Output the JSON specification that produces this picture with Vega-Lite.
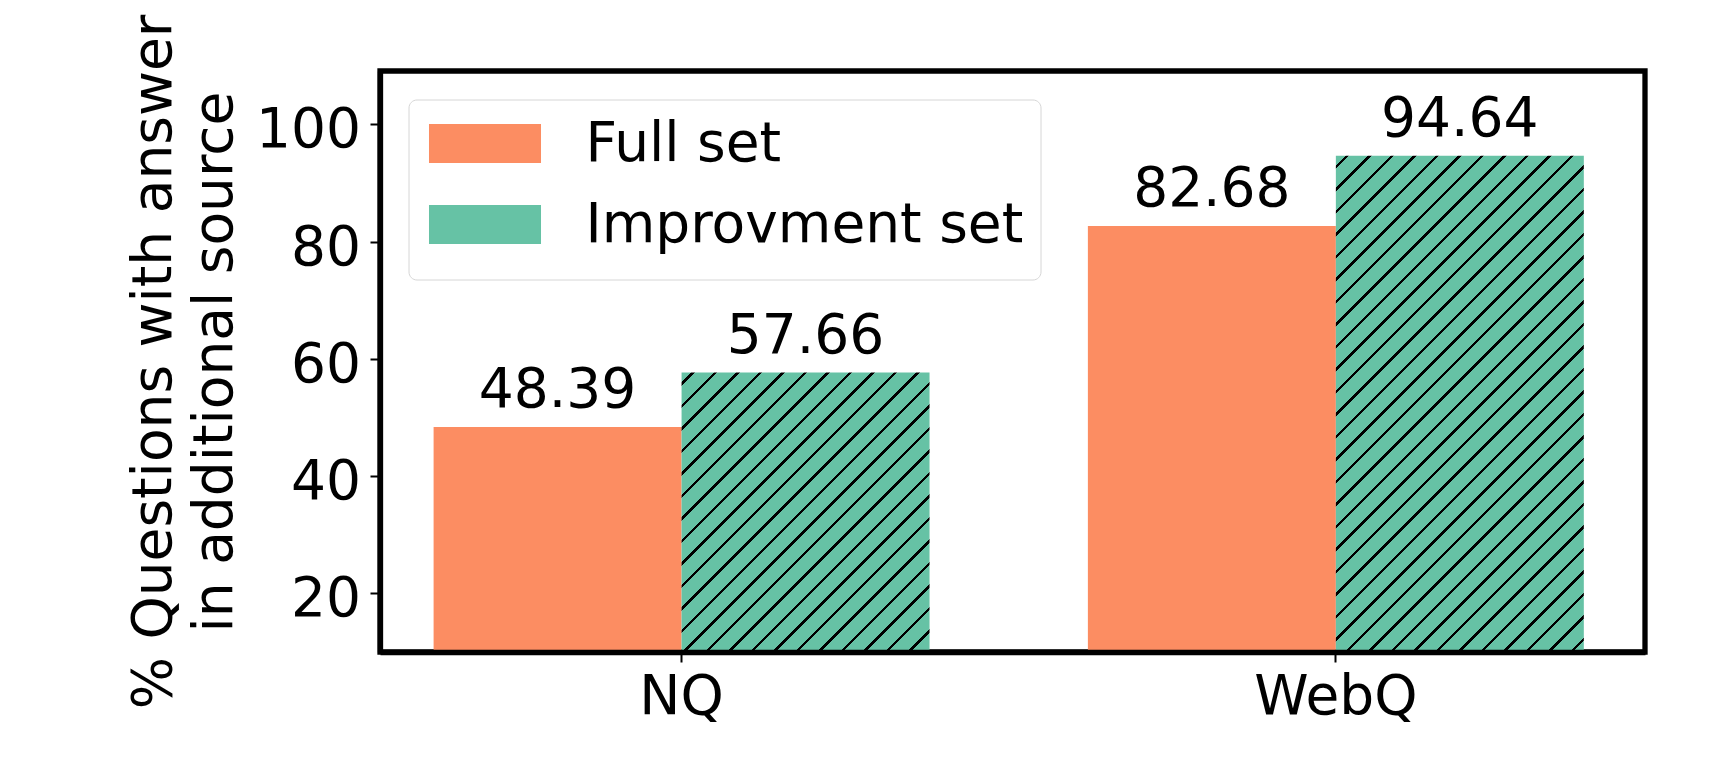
{
  "$schema": "https://vega.github.io/schema/vega-lite/v6.json",
  "width": 1265,
  "height": 581,
  "autosize": {"type": "none"},
  "padding": {"left": 380, "top": 71, "right": 81, "bottom": 108},
  "background": "white",
  "config": {
    "view": {"stroke": "black", "strokeWidth": 5.3},
    "font": "DejaVu Sans"
  },
  "data": {
    "values": [
      {"ds": "NQ", "set": "Full set", "value": 48.39},
      {"ds": "NQ", "set": "Improvment set", "value": 57.66},
      {"ds": "WebQ", "set": "Full set", "value": 82.68},
      {"ds": "WebQ", "set": "Improvment set", "value": 94.64}
    ]
  },
  "encoding": {
    "x": {
      "field": "ds", "type": "nominal", "sort": ["NQ", "WebQ"],
      "scale": {"paddingInner": 0.242, "paddingOuter": 0.0877, "align": 0.467},
      "axis": {
        "title": null, "labelAngle": 0, "grid": false, "zindex": 1,
        "domain": true, "domainColor": "black", "domainWidth": 5.3,
        "ticks": true, "tickSize": 10, "tickWidth": 2, "tickColor": "black", "bandPosition": 0.5,
        "labelFont": "DejaVu Sans", "labelFontSize": 55, "labelColor": "black",
        "labelBaseline": "alphabetic", "labelPadding": 51.7
      }
    },
    "xOffset": {
      "field": "set", "type": "nominal", "sort": ["Full set", "Improvment set"],
      "scale": {"paddingInner": 0, "paddingOuter": 0}
    },
    "y": {
      "field": "value", "type": "quantitative",
      "scale": {"domain": [10, 109.1], "zero": false, "nice": false},
      "axis": {
        "values": [20, 40, 60, 80, 100], "grid": false, "zindex": 1,
        "domain": true, "domainColor": "black", "domainWidth": 5.3,
        "tickSize": 10, "tickWidth": 2, "tickColor": "black",
        "labelFont": "DejaVu Sans", "labelFontSize": 55, "labelColor": "black",
        "labelPadding": 9.5, "labelBaseline": "alphabetic", "labelOffset": 22.5,
        "title": ["% Questions with answer\u00a0", "\u00a0in additional source"],
        "titleFont": "DejaVu Sans", "titleFontSize": 55, "titleFontWeight": "normal", "titleColor": "black",
        "titleAngle": 270, "titleAlign": "center", "titleBaseline": "alphabetic",
        "titleX": -210, "titleY": 290.5, "titleLineHeight": 61.7
      }
    }
  },
  "layer": [
    {
      "mark": {"type": "bar", "strokeWidth": 0},
      "encoding": {
        "y2": {"datum": 10},
        "fill": {
          "field": "set", "type": "nominal",
          "scale": {"domain": ["Full set", "Improvment set"], "range": ["#fc8d62", "#66c2a5"]},
          "legend": {
            "title": "\u00a0", "titleOrient": "bottom", "titleFontSize": 1, "titlePadding": 8.4,
            "orient": "none", "legendX": 28.5, "legendY": 28.5, "direction": "vertical",
            "symbolType": "M-2.872,-1H2.872V1H-2.872Z", "symbolSize": 1521, "symbolStrokeWidth": 0, "symbolOffset": 32.5,
            "labelFont": "DejaVu Sans", "labelFontSize": 55, "labelColor": "black", "labelLimit": 0,
            "labelOffset": 73, "labelBaseline": "middle", "labelExpr": "datum.label + '\u2009'",
            "padding": 16.5, "rowPadding": 25,
            "fillColor": "rgba(255,255,255,0.8)", "strokeColor": "#d6d6d6", "cornerRadius": 8
          },
          "condition": [
            {"test": "datum.ds === 'NQ' && datum.set === 'Improvment set'", "value": {"gradient": "linear", "x1": 0, "y1": 0, "x2": 1.35922, "y2": 1.53143, "stops": [
              {"offset":0.0125,"color":"#66c2a5"},{"offset":0.0125,"color":"#000"},{"offset":0.0169,"color":"#000"},{"offset":0.0169,"color":"#66c2a5"},
              {"offset":0.0419,"color":"#66c2a5"},{"offset":0.0419,"color":"#000"},{"offset":0.0463,"color":"#000"},{"offset":0.0463,"color":"#66c2a5"},
              {"offset":0.0713,"color":"#66c2a5"},{"offset":0.0713,"color":"#000"},{"offset":0.0757,"color":"#000"},{"offset":0.0757,"color":"#66c2a5"},
              {"offset":0.1007,"color":"#66c2a5"},{"offset":0.1007,"color":"#000"},{"offset":0.1051,"color":"#000"},{"offset":0.1051,"color":"#66c2a5"},
              {"offset":0.1302,"color":"#66c2a5"},{"offset":0.1302,"color":"#000"},{"offset":0.1346,"color":"#000"},{"offset":0.1346,"color":"#66c2a5"},
              {"offset":0.1596,"color":"#66c2a5"},{"offset":0.1596,"color":"#000"},{"offset":0.1640,"color":"#000"},{"offset":0.1640,"color":"#66c2a5"},
              {"offset":0.1890,"color":"#66c2a5"},{"offset":0.1890,"color":"#000"},{"offset":0.1934,"color":"#000"},{"offset":0.1934,"color":"#66c2a5"},
              {"offset":0.2184,"color":"#66c2a5"},{"offset":0.2184,"color":"#000"},{"offset":0.2228,"color":"#000"},{"offset":0.2228,"color":"#66c2a5"},
              {"offset":0.2478,"color":"#66c2a5"},{"offset":0.2478,"color":"#000"},{"offset":0.2522,"color":"#000"},{"offset":0.2522,"color":"#66c2a5"},
              {"offset":0.2772,"color":"#66c2a5"},{"offset":0.2772,"color":"#000"},{"offset":0.2816,"color":"#000"},{"offset":0.2816,"color":"#66c2a5"},
              {"offset":0.3066,"color":"#66c2a5"},{"offset":0.3066,"color":"#000"},{"offset":0.3110,"color":"#000"},{"offset":0.3110,"color":"#66c2a5"},
              {"offset":0.3360,"color":"#66c2a5"},{"offset":0.3360,"color":"#000"},{"offset":0.3404,"color":"#000"},{"offset":0.3404,"color":"#66c2a5"},
              {"offset":0.3654,"color":"#66c2a5"},{"offset":0.3654,"color":"#000"},{"offset":0.3698,"color":"#000"},{"offset":0.3698,"color":"#66c2a5"},
              {"offset":0.3949,"color":"#66c2a5"},{"offset":0.3949,"color":"#000"},{"offset":0.3993,"color":"#000"},{"offset":0.3993,"color":"#66c2a5"},
              {"offset":0.4243,"color":"#66c2a5"},{"offset":0.4243,"color":"#000"},{"offset":0.4287,"color":"#000"},{"offset":0.4287,"color":"#66c2a5"},
              {"offset":0.4537,"color":"#66c2a5"},{"offset":0.4537,"color":"#000"},{"offset":0.4581,"color":"#000"},{"offset":0.4581,"color":"#66c2a5"},
              {"offset":0.4831,"color":"#66c2a5"},{"offset":0.4831,"color":"#000"},{"offset":0.4875,"color":"#000"},{"offset":0.4875,"color":"#66c2a5"},
              {"offset":0.5125,"color":"#66c2a5"},{"offset":0.5125,"color":"#000"},{"offset":0.5169,"color":"#000"},{"offset":0.5169,"color":"#66c2a5"},
              {"offset":0.5419,"color":"#66c2a5"},{"offset":0.5419,"color":"#000"},{"offset":0.5463,"color":"#000"},{"offset":0.5463,"color":"#66c2a5"},
              {"offset":0.5713,"color":"#66c2a5"},{"offset":0.5713,"color":"#000"},{"offset":0.5757,"color":"#000"},{"offset":0.5757,"color":"#66c2a5"},
              {"offset":0.6007,"color":"#66c2a5"},{"offset":0.6007,"color":"#000"},{"offset":0.6051,"color":"#000"},{"offset":0.6051,"color":"#66c2a5"},
              {"offset":0.6302,"color":"#66c2a5"},{"offset":0.6302,"color":"#000"},{"offset":0.6346,"color":"#000"},{"offset":0.6346,"color":"#66c2a5"},
              {"offset":0.6596,"color":"#66c2a5"},{"offset":0.6596,"color":"#000"},{"offset":0.6640,"color":"#000"},{"offset":0.6640,"color":"#66c2a5"},
              {"offset":0.6890,"color":"#66c2a5"},{"offset":0.6890,"color":"#000"},{"offset":0.6934,"color":"#000"},{"offset":0.6934,"color":"#66c2a5"}
            ]}},
            {"test": "datum.ds === 'WebQ' && datum.set === 'Improvment set'", "value": {"gradient": "linear", "x1": 0, "y1": 0, "x2": 0.61648, "y2": 1.23353, "stops": [
              {"offset":0.0125,"color":"#66c2a5"},{"offset":0.0125,"color":"#000"},{"offset":0.0169,"color":"#000"},{"offset":0.0169,"color":"#66c2a5"},
              {"offset":0.0419,"color":"#66c2a5"},{"offset":0.0419,"color":"#000"},{"offset":0.0463,"color":"#000"},{"offset":0.0463,"color":"#66c2a5"},
              {"offset":0.0713,"color":"#66c2a5"},{"offset":0.0713,"color":"#000"},{"offset":0.0757,"color":"#000"},{"offset":0.0757,"color":"#66c2a5"},
              {"offset":0.1007,"color":"#66c2a5"},{"offset":0.1007,"color":"#000"},{"offset":0.1051,"color":"#000"},{"offset":0.1051,"color":"#66c2a5"},
              {"offset":0.1302,"color":"#66c2a5"},{"offset":0.1302,"color":"#000"},{"offset":0.1346,"color":"#000"},{"offset":0.1346,"color":"#66c2a5"},
              {"offset":0.1596,"color":"#66c2a5"},{"offset":0.1596,"color":"#000"},{"offset":0.1640,"color":"#000"},{"offset":0.1640,"color":"#66c2a5"},
              {"offset":0.1890,"color":"#66c2a5"},{"offset":0.1890,"color":"#000"},{"offset":0.1934,"color":"#000"},{"offset":0.1934,"color":"#66c2a5"},
              {"offset":0.2184,"color":"#66c2a5"},{"offset":0.2184,"color":"#000"},{"offset":0.2228,"color":"#000"},{"offset":0.2228,"color":"#66c2a5"},
              {"offset":0.2478,"color":"#66c2a5"},{"offset":0.2478,"color":"#000"},{"offset":0.2522,"color":"#000"},{"offset":0.2522,"color":"#66c2a5"},
              {"offset":0.2772,"color":"#66c2a5"},{"offset":0.2772,"color":"#000"},{"offset":0.2816,"color":"#000"},{"offset":0.2816,"color":"#66c2a5"},
              {"offset":0.3066,"color":"#66c2a5"},{"offset":0.3066,"color":"#000"},{"offset":0.3110,"color":"#000"},{"offset":0.3110,"color":"#66c2a5"},
              {"offset":0.3360,"color":"#66c2a5"},{"offset":0.3360,"color":"#000"},{"offset":0.3404,"color":"#000"},{"offset":0.3404,"color":"#66c2a5"},
              {"offset":0.3654,"color":"#66c2a5"},{"offset":0.3654,"color":"#000"},{"offset":0.3698,"color":"#000"},{"offset":0.3698,"color":"#66c2a5"},
              {"offset":0.3949,"color":"#66c2a5"},{"offset":0.3949,"color":"#000"},{"offset":0.3993,"color":"#000"},{"offset":0.3993,"color":"#66c2a5"},
              {"offset":0.4243,"color":"#66c2a5"},{"offset":0.4243,"color":"#000"},{"offset":0.4287,"color":"#000"},{"offset":0.4287,"color":"#66c2a5"},
              {"offset":0.4537,"color":"#66c2a5"},{"offset":0.4537,"color":"#000"},{"offset":0.4581,"color":"#000"},{"offset":0.4581,"color":"#66c2a5"},
              {"offset":0.4831,"color":"#66c2a5"},{"offset":0.4831,"color":"#000"},{"offset":0.4875,"color":"#000"},{"offset":0.4875,"color":"#66c2a5"},
              {"offset":0.5125,"color":"#66c2a5"},{"offset":0.5125,"color":"#000"},{"offset":0.5169,"color":"#000"},{"offset":0.5169,"color":"#66c2a5"},
              {"offset":0.5419,"color":"#66c2a5"},{"offset":0.5419,"color":"#000"},{"offset":0.5463,"color":"#000"},{"offset":0.5463,"color":"#66c2a5"},
              {"offset":0.5713,"color":"#66c2a5"},{"offset":0.5713,"color":"#000"},{"offset":0.5757,"color":"#000"},{"offset":0.5757,"color":"#66c2a5"},
              {"offset":0.6007,"color":"#66c2a5"},{"offset":0.6007,"color":"#000"},{"offset":0.6051,"color":"#000"},{"offset":0.6051,"color":"#66c2a5"},
              {"offset":0.6302,"color":"#66c2a5"},{"offset":0.6302,"color":"#000"},{"offset":0.6346,"color":"#000"},{"offset":0.6346,"color":"#66c2a5"},
              {"offset":0.6596,"color":"#66c2a5"},{"offset":0.6596,"color":"#000"},{"offset":0.6640,"color":"#000"},{"offset":0.6640,"color":"#66c2a5"},
              {"offset":0.6890,"color":"#66c2a5"},{"offset":0.6890,"color":"#000"},{"offset":0.6934,"color":"#000"},{"offset":0.6934,"color":"#66c2a5"},
              {"offset":0.7184,"color":"#66c2a5"},{"offset":0.7184,"color":"#000"},{"offset":0.7228,"color":"#000"},{"offset":0.7228,"color":"#66c2a5"},
              {"offset":0.7478,"color":"#66c2a5"},{"offset":0.7478,"color":"#000"},{"offset":0.7522,"color":"#000"},{"offset":0.7522,"color":"#66c2a5"},
              {"offset":0.7772,"color":"#66c2a5"},{"offset":0.7772,"color":"#000"},{"offset":0.7816,"color":"#000"},{"offset":0.7816,"color":"#66c2a5"},
              {"offset":0.8066,"color":"#66c2a5"},{"offset":0.8066,"color":"#000"},{"offset":0.8110,"color":"#000"},{"offset":0.8110,"color":"#66c2a5"},
              {"offset":0.8360,"color":"#66c2a5"},{"offset":0.8360,"color":"#000"},{"offset":0.8404,"color":"#000"},{"offset":0.8404,"color":"#66c2a5"},
              {"offset":0.8654,"color":"#66c2a5"},{"offset":0.8654,"color":"#000"},{"offset":0.8698,"color":"#000"},{"offset":0.8698,"color":"#66c2a5"},
              {"offset":0.8949,"color":"#66c2a5"},{"offset":0.8949,"color":"#000"},{"offset":0.8993,"color":"#000"},{"offset":0.8993,"color":"#66c2a5"},
              {"offset":0.9243,"color":"#66c2a5"},{"offset":0.9243,"color":"#000"},{"offset":0.9287,"color":"#000"},{"offset":0.9287,"color":"#66c2a5"},
              {"offset":0.9537,"color":"#66c2a5"},{"offset":0.9537,"color":"#000"},{"offset":0.9581,"color":"#000"},{"offset":0.9581,"color":"#66c2a5"}
            ]}}
          ]
        }
      }
    },
    {
      "mark": {"type": "text", "font": "DejaVu Sans", "fontSize": 55, "baseline": "alphabetic", "align": "center", "dy": -19.5, "color": "black"},
      "encoding": {
        "text": {"field": "value", "type": "quantitative", "format": ".2f"}
      }
    }
  ]
}
